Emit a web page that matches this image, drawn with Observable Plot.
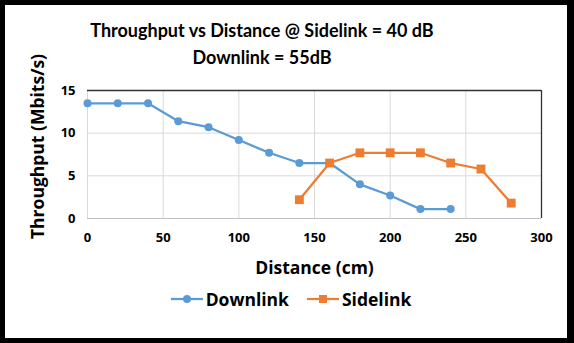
<!DOCTYPE html>
<html><head><meta charset="utf-8">
<script src="https://cdn.jsdelivr.net/npm/d3@7"></script>
<script src="https://cdn.jsdelivr.net/npm/@observablehq/plot@0.6"></script>
<style>
body{margin:0;background:#fff;}
#wrap{position:relative;width:574px;height:343px;overflow:hidden;font-family:Lato,"Open Sans",sans-serif;}
#border{position:absolute;left:0;top:0;width:574px;height:343px;box-sizing:border-box;border:5px solid #000;border-right-width:7px;pointer-events:none;}
#title{position:absolute;left:0;top:17px;width:524px;text-align:center;font-weight:bold;font-size:18px;line-height:27px;color:#000;}
#legend{position:absolute;left:0;top:287px;width:574px;display:flex;justify-content:center;gap:18px;font-family:"Open Sans",sans-serif;font-weight:bold;font-size:17.5px;color:#000;padding-left:8px;box-sizing:border-box;}
#legend span{display:flex;align-items:center;gap:3px;}
#chart{position:absolute;left:0;top:0;}
</style></head>
<body>
<div id="wrap">
<div id="chart"></div>
<div id="title">Throughput vs Distance @ Sidelink = 40 dB<br>Downlink = 55dB</div>
<div id="legend"></div>
<div id="border"></div>
</div>
<script>
const downDist = [0,20,40,60,80,100,120,140,160,180,200,220,240];
const downThr  = [13.5,13.5,13.5,11.4,10.7,9.2,7.7,6.5,6.5,4.0,2.7,1.1,1.1];
const sideDist = [140,160,180,200,220,240,260,280];
const sideThr  = [2.2,6.5,7.7,7.7,7.7,6.5,5.8,1.8];
const xTicks = [0,50,100,150,200,250,300];
const yTicks = [0,5,10,15];
const seriesNames = ["Downlink","Sidelink"];
const colors = ["#5B9BD5","#ED7D31"];

const down = downDist.map((d,i)=>({d, t:downThr[i]}));
const side = sideDist.map((d,i)=>({d, t:sideThr[i]}));

const plot = Plot.plot({
  width:574, height:343,
  marginLeft:87, marginRight:33, marginTop:90, marginBottom:125,
  style:{fontFamily:"'Open Sans', sans-serif", fontSize:"13px", fontWeight:"bold", color:"#000", background:"transparent"},
  x:{domain:[0,300], ticks:xTicks, tickSize:0, tickPadding:14, label:"Distance (cm)", labelAnchor:"center", labelOffset:55, labelArrow:"none"},
  y:{domain:[0,15], ticks:yTicks, tickSize:0, tickPadding:12, label:"Throughput (Mbits/s)", labelAnchor:"center", labelOffset:56, labelArrow:"none"},
  marks:[
    Plot.gridX(xTicks,{stroke:"#d9d9d9", strokeOpacity:1, strokeWidth:1}),
    Plot.gridY(yTicks,{stroke:"#d9d9d9", strokeOpacity:1, strokeWidth:1}),
    Plot.ruleY([0],{stroke:"#bfbfbf", strokeWidth:1.2}),
    Plot.ruleX([0],{stroke:"#d9d9d9"}),
    Plot.ruleY([15],{stroke:"#333", strokeWidth:1.3}),
    Plot.ruleX([300],{stroke:"#333", strokeWidth:1.3}),
    Plot.line(down,{x:"d", y:"t", stroke:colors[0], strokeWidth:2.25}),
    Plot.dot(down,{x:"d", y:"t", fill:colors[0], r:4, symbol:"circle"}),
    Plot.line(side,{x:"d", y:"t", stroke:colors[1], strokeWidth:2.25}),
    Plot.dot(side,{x:"d", y:"t", fill:colors[1], r:5, symbol:"square"})
  ]
});
plot.querySelectorAll('[aria-label="x-axis label"] text, [aria-label="y-axis label"] text').forEach(t=>{
  t.textContent = t.textContent.replace(/\s*[↑→←↓]\s*/g,"");
  t.style.fontSize="17.5px";
});
plot.querySelectorAll('[aria-label="y-axis label"] text').forEach(t=>{ t.setAttribute("dx","8"); });
document.getElementById("chart").appendChild(plot);

const leg = document.getElementById("legend");
seriesNames.forEach((n,i)=>{
  const s = document.createElement("span");
  const marker = i===0
    ? `<circle cx="16" cy="6" r="4" fill="${colors[i]}"/>`
    : `<rect x="12" y="2" width="8" height="8" fill="${colors[i]}"/>`;
  s.innerHTML = `<svg width="32" height="12"><line x1="0" x2="32" y1="6" y2="6" stroke="${colors[i]}" stroke-width="2.25"/>${marker}</svg>${n}`;
  leg.appendChild(s);
});
</script>
</body></html>
